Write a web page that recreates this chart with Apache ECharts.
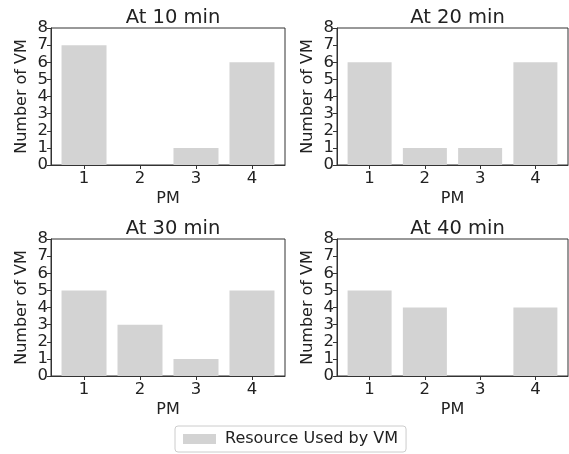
<!DOCTYPE html>
<html>
<head>
<meta charset="utf-8">
<script src="https://cdn.jsdelivr.net/npm/echarts@6/dist/echarts.min.js"></script>
<style>
  html, body { margin: 0; padding: 0; background: #fff; }
  #main { width: 569px; height: 454px; }
</style>
</head>
<body>
<div id="main"></div>
<script>
const pms = [1, 2, 3, 4];
const yTicks = [0, 1, 2, 3, 4, 5, 6, 7, 8];
const vm10 = [7, 0, 1, 6];
const vm20 = [6, 1, 1, 6];
const vm30 = [5, 3, 1, 5];
const vm40 = [5, 4, 0, 4];
const titles = ['At 10 min', 'At 20 min', 'At 30 min', 'At 40 min'];
const seriesName = 'Resource Used by VM';

const chart = echarts.init(document.getElementById('main'));
const font = 'DejaVu Sans';
const ink = '#222';
const barColor = '#d3d3d3';

// plot boxes: [left, top, width, height]
const boxes = [
    [51, 28, 234, 137],
    [337, 28, 231, 137],
    [51, 239, 234, 137],
    [337, 239, 231, 137]
];
const allData = [vm10, vm20, vm30, vm40];

chart.setOption({
    animation: false,
    title: boxes.map((b, i) => ({
        text: titles[i],
        left: b[0] + b[2] / 2,
        top: b[1] - 25,
        textAlign: 'center',
        textStyle: { fontFamily: font, fontSize: 19.5, fontWeight: 'normal', color: ink }
    })),
    legend: {
        data: [seriesName],
        left: 175,
        top: 426,
        padding: [5, 8],
        itemWidth: 33,
        itemHeight: 10,
        itemGap: 12,
        borderColor: '#ccc',
        borderWidth: 1,
        borderRadius: 3,
        icon: 'rect',
        textStyle: { fontFamily: font, fontSize: 16, color: ink, padding: [0, 0, 0, 4] }
    },
    grid: boxes.map(b => ({
        left: b[0], top: b[1], width: b[2], height: b[3],
        show: true, borderColor: '#333', borderWidth: 1,
        containLabel: false
    })),
    xAxis: boxes.map((b, i) => ({
        type: 'value',
        gridIndex: i,
        min: 0.41,
        max: 4.59,
        name: 'PM',
        nameLocation: 'middle',
        nameGap: 26,
        nameTextStyle: { fontFamily: font, fontSize: 16, color: ink },
        axisLine: { show: true, lineStyle: { color: '#333' } },
        axisTick: { show: true, length: 4, customValues: pms, lineStyle: { color: '#333' } },
        axisLabel: { customValues: pms, fontFamily: font, fontSize: 16.5, color: ink, margin: 5 },
        splitLine: { show: false }
    })),
    yAxis: boxes.map((b, i) => ({
        type: 'value',
        gridIndex: i,
        min: yTicks[0],
        max: yTicks[yTicks.length - 1],
        interval: 1,
        name: 'Number of VM',
        nameLocation: 'middle',
        nameGap: 21,
        nameTextStyle: { fontFamily: font, fontSize: 16, color: ink },
        axisLine: { show: true, lineStyle: { color: '#333' } },
        axisTick: { show: true, length: 4, lineStyle: { color: '#333' } },
        axisLabel: { fontFamily: font, fontSize: 16.5, color: ink, margin: 3 },
        splitLine: { show: false }
    })),
    series: allData.map((d, i) => ({
        name: seriesName,
        type: 'bar',
        xAxisIndex: i,
        yAxisIndex: i,
        barWidth: i % 2 === 0 ? 45 : 44,
        itemStyle: { color: barColor },
        data: pms.map((p, k) => [p, d[k]])
    }))
});
</script>
</body>
</html>
